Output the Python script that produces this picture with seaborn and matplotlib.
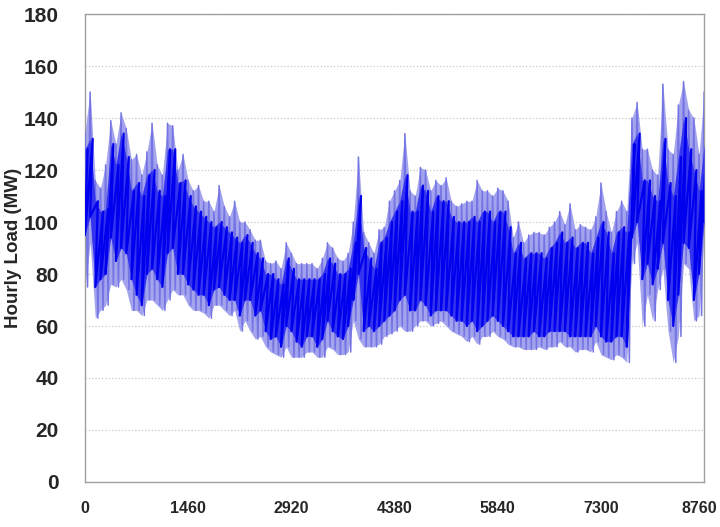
import numpy as np
import pandas as pd
import matplotlib
matplotlib.use("Agg")
import matplotlib.pyplot as plt
import matplotlib.transforms as mtransforms
import seaborn as sns

# ---------------------------------------------------------
# data, one sample every 73 hours
# (outer swing = peak/trough, dense daily core = core_high/core_low)
# ---------------------------------------------------------
hours = np.arange(0, 8761, 73)

peak_load = [
    135, 150, 116, 113, 122, 139, 130, 142, 136, 124, 126, 118, 127, 138, 122,
    118, 138, 137, 120, 126, 116, 112, 114, 108, 108, 104, 114, 106, 102, 108,
    100, 100, 97, 93, 93, 85, 84, 85, 82, 92, 88, 84, 84, 84, 84,
    82, 86, 92, 90, 86, 85, 88, 100, 125, 96, 92, 88, 97, 98, 108,
    112, 116, 134, 112, 110, 121, 120, 112, 116, 114, 117, 108, 106, 107, 108,
    108, 116, 112, 112, 110, 113, 112, 108, 94, 100, 92, 95, 96, 96, 95,
    98, 100, 104, 99, 107, 97, 99, 98, 97, 102, 115, 104, 96, 104, 108,
    104, 140, 146, 128, 128, 120, 118, 153, 128, 126, 145, 154, 143, 140, 126,
    150,
]
core_high = [
    128, 132, 108, 104, 105, 130, 122, 134, 125, 112, 115, 110, 118, 120, 112,
    110, 128, 128, 115, 116, 110, 106, 104, 102, 100, 98, 100, 98, 96, 94,
    92, 95, 92, 88, 86, 80, 80, 78, 76, 86, 82, 78, 78, 78, 78,
    78, 80, 86, 84, 80, 80, 82, 92, 110, 90, 86, 82, 92, 94, 100,
    104, 108, 118, 104, 104, 114, 112, 104, 110, 108, 108, 102, 100, 100, 100,
    102, 100, 104, 104, 100, 104, 104, 98, 88, 92, 86, 88, 88, 88, 86,
    90, 92, 96, 92, 94, 90, 92, 92, 88, 94, 100, 96, 88, 96, 98,
    96, 130, 134, 116, 116, 110, 108, 132, 115, 110, 125, 140, 128, 120, 112,
    130,
]
core_low = [
    95, 102, 75, 78, 80, 94, 85, 90, 88, 78, 72, 68, 80, 82, 78,
    75, 88, 90, 80, 80, 76, 74, 72, 72, 68, 74, 75, 72, 70, 70,
    64, 70, 70, 64, 66, 58, 55, 56, 52, 60, 58, 54, 52, 56, 56,
    52, 55, 62, 58, 56, 55, 60, 70, 80, 58, 60, 58, 60, 62, 64,
    66, 70, 72, 66, 66, 70, 68, 64, 66, 66, 66, 64, 62, 62, 60,
    62, 58, 60, 62, 64, 62, 60, 58, 56, 56, 56, 56, 58, 56, 56,
    58, 58, 58, 58, 56, 56, 56, 56, 56, 60, 56, 54, 54, 56, 56,
    52, 94, 100, 78, 84, 76, 82, 92, 70, 60, 72, 92, 90, 70, 80,
    100,
]
trough_load = [
    75, 92, 63, 66, 68, 76, 75, 78, 74, 66, 66, 64, 70, 70, 68,
    66, 70, 74, 72, 72, 68, 66, 66, 65, 63, 68, 68, 66, 64, 66,
    58, 62, 58, 55, 56, 52, 50, 49, 48, 52, 48, 48, 48, 50, 50,
    48, 48, 52, 51, 49, 49, 50, 62, 55, 52, 52, 52, 53, 56, 57,
    58, 60, 58, 58, 60, 62, 62, 60, 61, 62, 60, 58, 57, 56, 54,
    56, 53, 56, 56, 58, 56, 55, 53, 52, 52, 51, 51, 51, 52, 51,
    52, 52, 54, 52, 52, 50, 51, 51, 50, 54, 49, 48, 47, 49, 48,
    46, 84, 92, 60, 72, 62, 74, 82, 58, 46, 56, 84, 82, 62, 64,
    95,
]

y_ticks = np.arange(0, 181, 20)
x_ticks = np.arange(0, 8761, 730)
x_labels = [str(t) if t % 1460 == 0 else "" for t in x_ticks]

# zig-zag between the read values (peak at the sample, trough half a step later)
half = 73 / 2
outer = pd.DataFrame({
    "hour": np.ravel(np.column_stack([hours, hours + half])),
    "load": np.ravel(np.column_stack([peak_load, trough_load])),
})
core = pd.DataFrame({
    "hour": np.ravel(np.column_stack([hours + half, hours])),
    "load": np.ravel(np.column_stack([core_high, core_low])),
})

sns.set_style("white")
plt.rcParams["font.family"] = ["Liberation Sans", "DejaVu Sans"]

fig = plt.figure(figsize=(7.2, 5.27), dpi=100)
ax = fig.add_axes([0.118, 0.0854, 0.860, 0.888])

ax.fill_between(hours, trough_load, peak_load, color="#a4a4ee", lw=0, zorder=2)
sns.lineplot(data=outer, x="hour", y="load", sort=False, estimator=None,
             color="#7474e4", lw=1.1, ax=ax, zorder=3)
ax.fill_between(hours, core_low, core_high, color="#3434f0", lw=0, zorder=4)
sns.lineplot(data=core, x="hour", y="load", sort=False, estimator=None,
             color="#0000ee", lw=1.6, ax=ax, zorder=5)

ax.set_xlim(0, 8760)
ax.set_ylim(0, 180)
ax.set_yticks(y_ticks)
ax.set_yticklabels([str(v) for v in y_ticks], fontsize=15, fontweight="bold")
ax.set_xticks(x_ticks)
ax.set_xticklabels(x_labels, fontsize=11.5, fontweight="bold")
ax.yaxis.grid(True, color="#c8c8c8", ls=":", lw=0.9)
ax.xaxis.grid(False)
ax.tick_params(axis="both", direction="out", length=5, width=0.9,
               color="#999999")
ax.tick_params(axis="y", pad=14)
ax.tick_params(axis="x", pad=9)
for side in ["left", "bottom", "right", "top"]:
    ax.spines[side].set_color("#a0a0a0")
    ax.spines[side].set_linewidth(1.0)

# nudge the last x label so it stays inside the figure edge
last = ax.get_xticklabels()[-1]
last.set_transform(last.get_transform() +
                   mtransforms.ScaledTranslation(-5 / 100, 0, fig.dpi_scale_trans))

ax.set_xlabel("")
ax.set_ylabel("Hourly Load (MW)", fontsize=13.5, fontweight="bold")
ax.yaxis.set_label_coords(-0.101, 0.5)

plt.savefig("out.png", dpi=100)
